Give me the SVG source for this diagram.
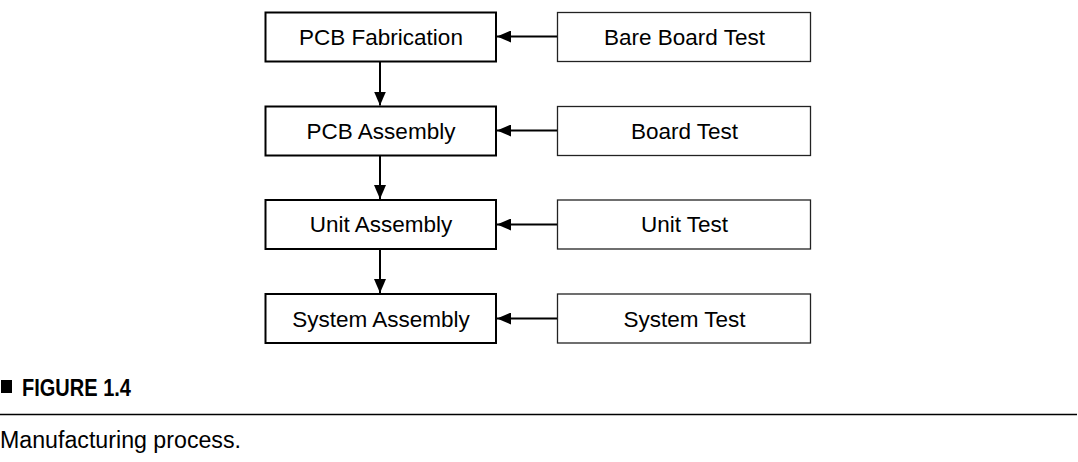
<svg xmlns="http://www.w3.org/2000/svg" width="1078" height="462" viewBox="0 0 1078 462">
<style>
.bg{fill:#ffffff}
.main rect{fill:#ffffff;stroke:#000000;stroke-width:2}
.test rect{fill:#ffffff;stroke:#222222;stroke-width:1.3}
.lbl{font-family:"Liberation Sans",Arial,sans-serif;font-size:22.5px;fill:#000000;text-anchor:middle}
.conn line{stroke:#000000;stroke-width:2}
.cap{font-family:"Liberation Sans",Arial,sans-serif;fill:#000000}
</style>
<defs>
<marker id="ah" viewBox="0 0 14 12" refX="14" refY="6" markerWidth="14" markerHeight="12" markerUnits="userSpaceOnUse" orient="auto">
<path d="M0,0 L14,6 L0,12 Z" fill="#000000"/>
</marker>
</defs>
<rect class="bg" x="0" y="0" width="1078" height="462"/>
<g id="pcb-fabrication" class="main"><rect x="265.5" y="12.5" width="230.5" height="49"/><text class="lbl" x="381" y="44.5">PCB Fabrication</text></g>
<g id="pcb-assembly" class="main"><rect x="265.5" y="106.5" width="230.5" height="49"/><text class="lbl" x="381" y="138.5">PCB Assembly</text></g>
<g id="unit-assembly" class="main"><rect x="265.5" y="200" width="230.5" height="49"/><text class="lbl" x="381" y="232">Unit Assembly</text></g>
<g id="system-assembly" class="main"><rect x="265.5" y="294" width="230.5" height="49"/><text class="lbl" x="381" y="326.5">System Assembly</text></g>
<g id="bare-board-test" class="test"><rect x="557.5" y="12.5" width="253" height="49"/><text class="lbl" x="684.5" y="44.5">Bare Board Test</text></g>
<g id="board-test" class="test"><rect x="557.5" y="106.5" width="253" height="49"/><text class="lbl" x="684.5" y="138.5">Board Test</text></g>
<g id="unit-test" class="test"><rect x="557.5" y="200" width="253" height="49"/><text class="lbl" x="684.5" y="232">Unit Test</text></g>
<g id="system-test" class="test"><rect x="557.5" y="294" width="253" height="49"/><text class="lbl" x="684.5" y="326.5">System Test</text></g>
<g id="connectors" class="conn">
<line x1="380" y1="62" x2="380" y2="105.5" marker-end="url(#ah)"/>
<line x1="380" y1="156" x2="380" y2="199" marker-end="url(#ah)"/>
<line x1="380" y1="250" x2="380" y2="293" marker-end="url(#ah)"/>
<line x1="557" y1="36.5" x2="497" y2="36.5" marker-end="url(#ah)"/>
<line x1="557" y1="130.5" x2="497" y2="130.5" marker-end="url(#ah)"/>
<line x1="557" y1="224.5" x2="497" y2="224.5" marker-end="url(#ah)"/>
<line x1="557" y1="318.5" x2="497" y2="318.5" marker-end="url(#ah)"/>
</g>
<g id="caption">
<rect x="1" y="380" width="11" height="13" fill="#000000"/>
<text class="cap" x="22" y="395.5" font-size="24.5" font-weight="bold" textLength="109" lengthAdjust="spacingAndGlyphs">FIGURE 1.4</text>
<line x1="0" y1="414.5" x2="1077" y2="414.5" stroke="#000000" stroke-width="1.3"/>
<text class="cap" x="0" y="448" font-size="23.5" textLength="241" lengthAdjust="spacingAndGlyphs">Manufacturing process.</text>
</g>
</svg>
